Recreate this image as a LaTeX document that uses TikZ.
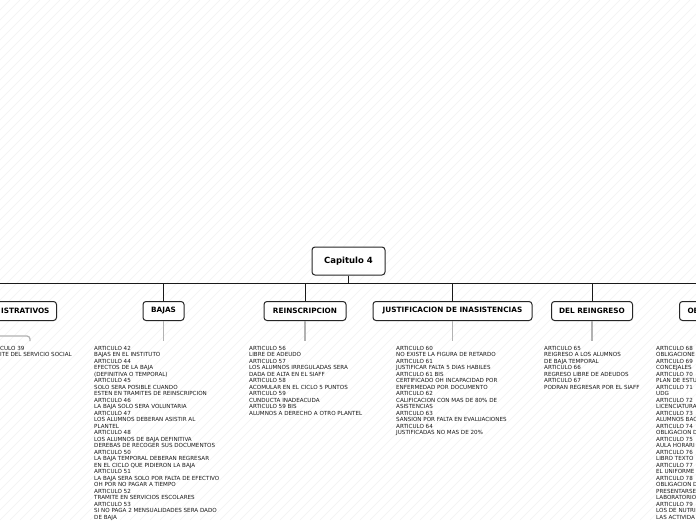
\documentclass[tikz,border=0pt]{standalone}
\usepackage{fontspec}
\setmainfont{DejaVu Sans}
\tikzset{
  rootbox/.style={draw=black!85, line width=1pt, rounded corners=3pt, fill=white,
    font=\bfseries\fontsize{8.5}{10}\selectfont, minimum width=73pt, minimum height=28pt, inner sep=0pt},
  branchbox/.style={draw=black!85, line width=1pt, rounded corners=3pt, fill=white,
    font=\bfseries\fontsize{7.3}{9}\selectfont, minimum height=19pt, inner sep=0pt},
  textblock/.style={anchor=north west, inner sep=0pt, align=left, text=black!90,
    font=\fontsize{5.6}{6.5}\selectfont},
  busline/.style={draw=black!90, line width=1pt},
  grayline/.style={draw=black!30, line width=1.2pt},
  hatch/.style={draw=black!5, line width=0.4pt}
}
\begin{document}
\begin{tikzpicture}[x=1pt,y=-1pt]
\useasboundingbox (0,0) rectangle (696,520);
\clip (0,0) rectangle (696,520);
\fill[white] (0,0) rectangle (696,520);
\foreach \i in {-520,-510,...,700} \draw[hatch] (\i,520) -- (\i+520,0);

% root
\node[rootbox] (root) at (348.5,261) {Capitulo 4};
\coordinate (busL) at (-5,283);
\coordinate (busR) at (701,283);
\draw[busline] (busL) -- (busR);
\draw[busline] (root.south) -- (root.south |- busL);

% branches
\node[branchbox, anchor=east, text width=123pt, inner xsep=7pt, align=right] (admin) at (57,311) {ISTRATIVOS};
\node[branchbox, minimum width=41pt] (bajas) at (163.5,311) {BAJAS};
\node[branchbox, minimum width=82pt] (reins) at (305,311) {REINSCRIPCION};
\node[branchbox, minimum width=159pt] (just) at (452.5,311) {JUSTIFICACION DE INASISTENCIAS};
\node[branchbox, minimum width=81pt] (reing) at (592,311) {DEL REINGRESO};
\node[branchbox, anchor=west, text width=44pt, inner xsep=8pt, align=left] (oblig) at (679,311) {OB};

\foreach \n in {admin,bajas,reins,just,reing,oblig}
  \draw[busline] (\n.north) -- (\n.north |- busL);

% text blocks
\node[textblock] (tadmin) at (0,346) {CULO 39\\ITE DEL SERVICIO SOCIAL};
\node[textblock] (tbajas) at (94,346) {ARTICULO 42\\BAJAS EN EL INSTITUTO\\ARTICULO 44\\EFECTOS DE LA BAJA\\(DEFINITIVA O TEMPORAL)\\ARTICULO 45\\SOLO SERA POSIBLE CUANDO\\ESTEN EN TRAMITES DE REINSCRIPCION\\ARTICULO 46\\LA BAJA SOLO SERA VOLUNTARIA\\ARTICULO 47\\LOS ALUMNOS DEBERAN ASISTIR AL\\PLANTEL\\ARTICULO 48\\LOS ALUMNOS DE BAJA DEFINITIVA\\DEREBAS DE RECOGER SUS DOCUMENTOS\\ARTICULO 50\\LA BAJA TEMPORAL DEBERAN REGRESAR\\EN EL CICLO QUE PIDIERON LA BAJA\\ARTICULO 51\\LA BAJA SERA SOLO POR FALTA DE EFECTIVO\\OH POR NO PAGAR A TIEMPO\\ARTICULO 52\\TRAMITE EN SERVICIOS ESCOLARES\\ARTICULO 53\\SI NO PAGA 2 MENSUALIDADES SERA DADO\\DE BAJA};
\node[textblock] (treins) at (249,346) {ARTICULO 56\\LIBRE DE ADEUDO\\ARTICULO 57\\LOS ALUMNOS IRREGULADAS SERA\\DADA DE ALTA EN EL SIAFF\\ARTICULO 58\\ACOMULAR EN EL CICLO 5 PUNTOS\\ARTICULO 59\\CUNDUCTA INADEACUDA\\ARTICULO 59 BIS\\ALUMNOS A DERECHO A OTRO PLANTEL};
\node[textblock] (tjust) at (396,346) {ARTICULO 60\\NO EXISTE LA FIGURA DE RETARDO\\ARTICULO 61\\JUSTIFICAR FALTA 5 DIAS HABILES\\ARTICULO 61 BIS\\CERTIFICADO OH INCAPACIDAD POR\\ENFERMEDAD POR DOCUMENTO\\ARTICULO 62\\CALIFICACION CON MAS DE 80\% DE\\ASISTENCIAS\\ARTICULO 63\\SANSION POR FALTA EN EVALUACIONES\\ARTICULO 64\\JUSTIFICADAS NO MAS DE 20\%};
\node[textblock] (treing) at (544,346) {ARTICULO 65\\REIGRESO A LOS ALUMNOS\\DE BAJA TEMPORAL\\ARTICULO 66\\REGRESO LIBRE DE ADEUDOS\\ARTICULO 67\\PODRAN REGRESAR POR EL SIAFF};
\node[textblock] (toblig) at (656,346) {ARTICULO 68\\OBLIGACIONE\\ARTICULO 69\\CONCEJALES\\ARTICULO 70\\PLAN DE ESTU\\ARTICULO 71\\UDG\\ARTICULO 72\\LICENCIATURA\\ARTICULO 73\\ALUMNOS BAC\\ARTICULO 74\\OBLIGACION D\\ARTICULO 75\\AULA HORARI\\ARTICULO 76\\LIBRO TEXTO\\ARTICULO 77\\EL UNIFORME\\ARTICULO 78\\OBLIGACION D\\PRESENTARSE\\LABORATORIO\\ARTICULO 79\\LOS DE NUTRI\\LAS ACTIVIDA};

% gray connectors to text blocks
\foreach \n/\t in {bajas/tbajas,reins/treins,just/tjust,reing/treing,oblig/toblig}
  \draw[grayline, shorten >=5pt] (\n.south) -- (\n.south |- \t.north);
\coordinate (adminEnd) at (30,341);
\draw[grayline, rounded corners=3pt] (admin.south) |- (30,336) -- (adminEnd);
\end{tikzpicture}
\end{document}
